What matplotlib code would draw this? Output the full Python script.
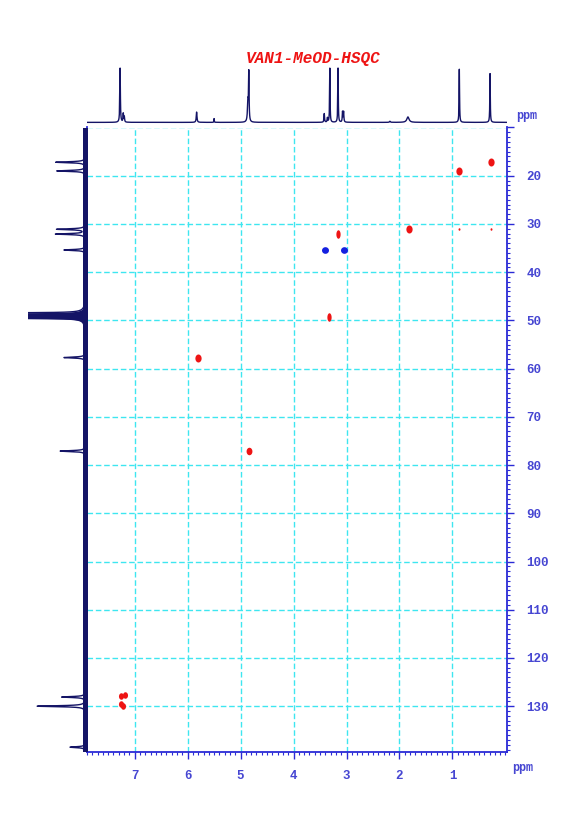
import numpy as np
import matplotlib
matplotlib.use("Agg")
import matplotlib.pyplot as plt
from matplotlib.path import Path

# ---------------- data ----------------
title = "VAN1-MeOD-HSQC"

# 1H projection peaks (ppm, relative height, half-width ppm)
h_ppm    = [7.275, 7.215, 7.195, 5.83, 5.50, 4.845, 4.862, 3.42, 3.36, 3.315, 3.16, 3.075, 3.055, 1.84, 2.18, 0.87, 0.29]
h_height = [1.00, 0.16, 0.10, 0.19, 0.07, 0.88, 0.36, 0.16, 0.08, 1.00, 1.00, 0.19, 0.19, 0.10, 0.02, 0.98, 0.90]
h_width  = [0.006, 0.006, 0.006, 0.008, 0.004, 0.006, 0.010, 0.006, 0.006, 0.005, 0.005, 0.006, 0.006, 0.025, 0.01, 0.005, 0.005]

# 13C projection peaks (ppm, relative height)
c_ppm    = [17.2, 19.0, 31.1, 32.1, 35.4, 57.7, 77.1, 128.1, 130.0, 138.5]
c_height = [0.54, 0.52, 0.52, 0.54, 0.39, 0.39, 0.46, 0.43, 0.88, 0.28]
# solvent (CD3OD septet)
solv_ppm    = [48.45, 48.63, 48.81, 49.0, 49.19, 49.37, 49.55]
solv_height = [1.6, 4.0, 8.0, 9.0, 8.0, 4.0, 1.6]

# HSQC cross peaks: (1H ppm, 13C ppm, phase, marker size)
xp_h     = [7.25, 7.185, 7.26, 7.22, 5.80, 4.85, 3.325, 3.155, 1.825, 0.87, 0.28, 0.87, 0.28, 3.405, 3.05]
xp_c     = [127.8, 127.6, 129.5, 129.9, 57.7, 77.1, 49.2, 32.0, 31.1, 19.0, 17.1, 31.0, 31.0, 35.4, 35.4]
xp_phase = ["+", "+", "+", "+", "+", "+", "+", "+", "+", "+", "+", "+", "+", "-", "-"]
xp_size  = [6.5, 6.5, 6.5, 6.5, 8.0, 7.5, 8.5, 8.5, 8.0, 8.0, 8.0, 2.5, 2.5, 7.0, 7.0]
xp_shape = ["e", "e", "e", "e", "e", "e", "v", "v", "e", "e", "e", "e", "e", "c", "c"]

x_major = [1, 2, 3, 4, 5, 6, 7]
y_major = [10, 20, 30, 40, 50, 60, 70, 80, 90, 100, 110, 120, 130]

# ---------------- style ----------------
NAVY = "#141466"
BLUE = "#2a2ad6"
LABEL = "#4646d2"
GRID = "#3ee6f0"
RED = "#ee1414"
PBLUE = "#1420e0"
mono_b = dict(family="Liberation Mono", weight="bold")

XLIM = (7.9, -0.03)
YLIM = (139.5, 10.0)

W, H = 585, 827
fig = plt.figure(figsize=(W / 100, H / 100), dpi=100)


def px_axes(x0, y0, x1, y1):
    return fig.add_axes([x0 / W, 1 - y1 / H, (x1 - x0) / W, (y1 - y0) / H])


ax = px_axes(87, 127.5, 507, 752)
ax_top = px_axes(87, 60, 507, 124)
ax_left = px_axes(28, 127.5, 88, 752)

# ---------------- main 2D ----------------
ax.set_xlim(*XLIM)
ax.set_ylim(*YLIM)
for xv in x_major:
    ax.axvline(xv, color=GRID, lw=1.0, ls=(0, (4, 2)), zorder=1)
for yv in y_major:
    ax.axhline(yv, color=GRID, lw=1.0, ls=(0, (4, 2)), zorder=1)

t = np.linspace(0, 2 * np.pi, 40)
ell_e = Path(np.column_stack([0.78 * np.cos(t), np.sin(t)]))
ell_v = Path(np.column_stack([0.5 * np.cos(t), np.sin(t)]))
ell_c = Path(np.column_stack([np.cos(t), 0.95 * np.sin(t)]))
shapes = {"e": ell_e, "v": ell_v, "c": ell_c}
for h, c, ph, s, sh in zip(xp_h, xp_c, xp_phase, xp_size, xp_shape):
    ax.scatter([h], [c], s=(s / 1.389) ** 2, marker=shapes[sh],
               color=RED if ph == "+" else PBLUE, linewidths=0, zorder=3)

ax.spines["top"].set_visible(False)
ax.spines["left"].set_color(BLUE)
ax.spines["right"].set_color(BLUE)
ax.spines["bottom"].set_color(BLUE)
for sp in ax.spines.values():
    sp.set_linewidth(1.3)

ax.xaxis.set_ticks_position("bottom")
ax.yaxis.set_ticks_position("right")
ax.set_xticks(x_major)
ax.set_xticklabels([str(v) for v in x_major])
ax.set_xticks(np.arange(0, 7.95, 0.1), minor=True)
ax.set_yticks(y_major)
ax.set_yticklabels(["" if v == 10 else str(v) for v in y_major])
ax.set_yticks(np.arange(10, 140, 1), minor=True)
ax.tick_params(axis="x", which="major", direction="out", length=5, width=1, color=BLUE,
               labelcolor=LABEL, labelsize=9, pad=8)
ax.tick_params(axis="x", which="minor", direction="out", length=2.5, width=0.8, color=BLUE)
ax.tick_params(axis="y", which="major", direction="out", length=5, width=1, color=BLUE,
               labelcolor=LABEL, labelsize=9, pad=9, left=False, right=True,
               labelleft=False, labelright=True)
ax.tick_params(axis="y", which="minor", direction="out", length=2.5, width=0.8, color=BLUE,
               left=False, right=True)
for lab in ax.get_xticklabels() + ax.get_yticklabels():
    lab.set_fontfamily("Liberation Mono")
    lab.set_fontweight("bold")

# ppm labels
fig.text(516 / W, 1 - 116 / H, "ppm", color=LABEL, fontsize=8.5, ha="left", va="center", **mono_b)
fig.text(512 / W, 1 - 768 / H, "ppm", color=LABEL, fontsize=8.5, ha="left", va="center", **mono_b)

# ---------------- 1H projection ----------------
xh = np.linspace(XLIM[1], XLIM[0], 12000)
yh = np.zeros_like(xh)
for p, hgt, w in zip(h_ppm, h_height, h_width):
    yh += hgt * w ** 2 / ((xh - p) ** 2 + w ** 2)
ax_top.plot(xh, yh, color=NAVY, lw=1.0)
ax_top.set_xlim(*XLIM)
ax_top.set_ylim(-0.03, 1.15)
ax_top.axis("off")

# ---------------- 13C projection ----------------
yc = np.linspace(YLIM[1], YLIM[0], 30000)
ic = np.zeros_like(yc)
isolv = np.zeros_like(yc)
for p, hgt in zip(c_ppm, c_height):
    w = 0.12
    ic += hgt * w ** 2 / ((yc - p) ** 2 + w ** 2)
for p, hgt in zip(solv_ppm, solv_height):
    w = 0.05
    isolv += hgt * w ** 2 / ((yc - p) ** 2 + w ** 2)
ax_left.fill_betweenx(yc, 0, isolv, color=NAVY, lw=0)
ax_left.plot(ic + isolv, yc, color=NAVY, lw=1.0, clip_on=True)
ax_left.axvline(0.0, color=NAVY, lw=3.6)
ax_left.set_xlim(1.05, -0.05)
ax_left.set_ylim(*YLIM)
ax_left.axis("off")

# ---------------- title ----------------
fig.text(313 / W, 1 - 59 / H, title, color=RED, fontsize=11.5, ha="center", va="center",
         family="Liberation Mono", weight="bold", style="italic")

fig.savefig("out.png", dpi=100)
